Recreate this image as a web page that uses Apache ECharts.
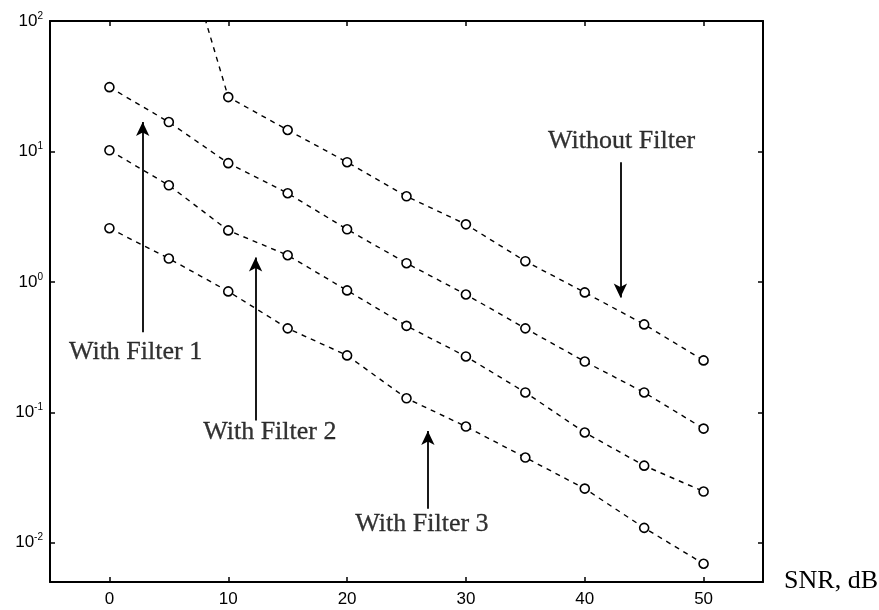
<!DOCTYPE html>
<html><head><meta charset="utf-8">
<script src="https://cdn.jsdelivr.net/npm/echarts@6/dist/echarts.min.js"></script>
<style>html,body{margin:0;padding:0;background:#fff}#c{width:879px;height:610px}</style>
</head><body><div id="c"></div>
<script>
// ---- data ----
const snr = [0, 5, 10, 15, 20, 25, 30, 35, 40, 45, 50];
const withoutFilter = [6000, 900, 26.1, 14.6, 8.27, 4.53, 2.76, 1.44, 0.83, 0.472, 0.25];
const withFilter1 = [31.1, 16.8, 8.13, 4.78, 2.53, 1.39, 0.80, 0.44, 0.245, 0.142, 0.075];
const withFilter2 = [10.2, 5.5, 2.48, 1.6, 0.86, 0.46, 0.268, 0.142, 0.070, 0.039, 0.0247];
const withFilter3 = [2.58, 1.51, 0.845, 0.44, 0.273, 0.128, 0.0778, 0.045, 0.026, 0.013, 0.0069];
const xTicks = [0, 10, 20, 30, 40, 50];
const yTicks = [0.01, 0.1, 1, 10, 100];
const xLabel = 'SNR, dB';
const annoTexts = ['With Filter 1', 'With Filter 2', 'With Filter 3', 'Without Filter'];
// annotation anchors (data space): text point, arrow tail, arrow head
const annoText = [[2.2, 0.288], [13.5, 0.070], [26.3, 0.014], [43.1, 12.0]];
const annoArrow = [
  [[2.8, 0.41], [2.8, 16.8]],
  [[12.3, 0.0865], [12.3, 1.54]],
  [[26.8, 0.0182], [26.8, 0.072]],
  [[43.0, 8.26], [43.0, 0.76]]
];

const chart = echarts.init(document.getElementById('c'), null, {renderer: 'canvas'});
const ser = (d) => ({
  type: 'line', data: snr.map((x, i) => [x, d[i]]), clip: true,
  symbol: 'circle', symbolSize: 9, showAllSymbol: true,
  itemStyle: {color: '#fff', borderColor: '#000', borderWidth: 1.6},
  lineStyle: {color: '#000', width: 1.4, type: [5, 5]},
  silent: true, z: 3
});
const axisLineStyle = {show: true, onZero: false, lineStyle: {color: '#000', width: 2}};
const tickStyle = {show: true, inside: true, length: 5, lineStyle: {color: '#000', width: 1.5}};
const supFmt = v => '{b|10}{s|' + Math.round(Math.log10(v)) + '}';
chart.setOption({
  animation: false,
  backgroundColor: '#fff',
  grid: {left: 50, right: 116, top: 21, bottom: 28, containLabel: false},
  xAxis: [{
    type: 'value', min: -5, max: 55, position: 'bottom',
    axisLine: axisLineStyle,
    axisTick: Object.assign({customValues: xTicks}, tickStyle),
    axisLabel: {customValues: xTicks, color: '#000', fontSize: 17, fontFamily: 'Liberation Sans', margin: 9},
    splitLine: {show: false}
  }, {
    type: 'value', min: -5, max: 55, position: 'top',
    axisLine: axisLineStyle,
    axisTick: Object.assign({customValues: xTicks}, tickStyle),
    axisLabel: {show: false}, splitLine: {show: false}
  }],
  yAxis: [{
    type: 'log', logBase: 10, min: 0.005, max: 100, position: 'left',
    axisLine: axisLineStyle,
    axisTick: Object.assign({customValues: yTicks}, tickStyle),
    axisLabel: {
      customValues: yTicks, formatter: supFmt, margin: 7,
      rich: {
        b: {fontSize: 17, color: '#000', fontFamily: 'Liberation Sans'},
        s: {fontSize: 10, color: '#000', fontFamily: 'Liberation Sans', verticalAlign: 'top', padding: [0, 0, 10, 0]}
      }
    },
    splitLine: {show: false}
  }, {
    type: 'log', logBase: 10, min: 0.005, max: 100, position: 'right',
    axisLine: axisLineStyle,
    axisTick: Object.assign({customValues: yTicks}, tickStyle),
    axisLabel: {show: false}, splitLine: {show: false}
  }],
  graphic: [{
    type: 'text', right: 1, bottom: 16,
    style: {text: xLabel, font: '26px "Liberation Serif"', fill: '#000'}
  }],
  series: [
    ser(withoutFilter), ser(withFilter1), ser(withFilter2), ser(withFilter3),
    {
      type: 'scatter', symbolSize: 0, silent: true, z: 5,
      data: annoText.map((p, i) => [p[0], p[1], annoTexts[i]]),
      label: {show: true, position: 'inside', formatter: p => p.value[2],
        color: '#000', fontSize: 26, fontFamily: 'Liberation Serif',
        textBorderColor: '#000', textBorderWidth: 0.3},
      markLine: {
        silent: true, symbol: ['none', 'arrow'], symbolSize: [10, 14],
        label: {show: false},
        lineStyle: {color: '#000', width: 1.8, type: 'solid'},
        data: annoArrow.map(a => [{coord: a[0]}, {coord: a[1]}])
      }
    }
  ]
});
</script></body></html>
